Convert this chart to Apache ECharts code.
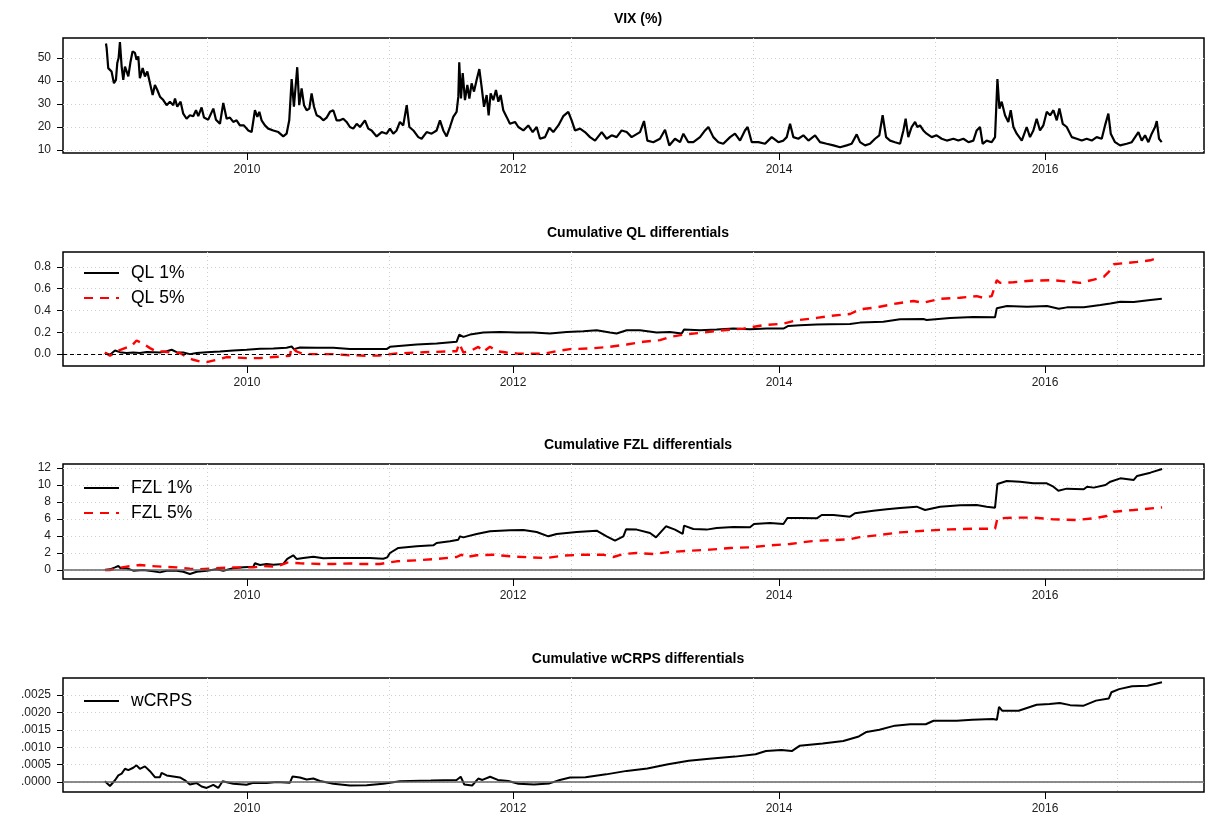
<!DOCTYPE html>
<html>
<head>
<meta charset="utf-8">
<script src="https://cdn.jsdelivr.net/npm/echarts@6/dist/echarts.min.js"></script>
<style>
  html, body { margin: 0; padding: 0; background: #fff; }
  #main { width: 1208px; height: 822px; }
</style>
</head>
<body>
<div id="main"></div>
<script>
// x values are decimal years
var vixYear = [2008.940,2008.945,2008.957,2008.982,2009.000,2009.015,2009.025,2009.035,2009.045,2009.058,2009.070,2009.083,2009.108,2009.125,2009.140,2009.158,2009.170,2009.183,2009.195,2009.216,2009.233,2009.251,2009.271,2009.291,2009.308,2009.326,2009.346,2009.371,2009.396,2009.421,2009.446,2009.459,2009.476,2009.501,2009.521,2009.546,2009.571,2009.596,2009.617,2009.634,2009.659,2009.677,2009.709,2009.747,2009.767,2009.797,2009.822,2009.847,2009.872,2009.897,2009.922,2009.947,2009.977,2010.010,2010.035,2010.060,2010.078,2010.093,2010.110,2010.135,2010.160,2010.198,2010.236,2010.273,2010.298,2010.318,2010.336,2010.353,2010.378,2010.393,2010.411,2010.429,2010.449,2010.469,2010.486,2010.504,2010.524,2010.549,2010.574,2010.599,2010.624,2010.649,2010.674,2010.699,2010.724,2010.749,2010.774,2010.799,2010.825,2010.850,2010.887,2010.912,2010.937,2010.975,2011.013,2011.050,2011.075,2011.100,2011.125,2011.150,2011.175,2011.201,2011.221,2011.251,2011.288,2011.313,2011.351,2011.388,2011.426,2011.451,2011.476,2011.501,2011.526,2011.551,2011.576,2011.589,2011.596,2011.609,2011.622,2011.639,2011.657,2011.672,2011.689,2011.707,2011.727,2011.747,2011.764,2011.782,2011.802,2011.817,2011.832,2011.852,2011.872,2011.890,2011.907,2011.927,2011.952,2011.977,2012.015,2012.040,2012.078,2012.115,2012.148,2012.178,2012.203,2012.241,2012.273,2012.303,2012.341,2012.378,2012.416,2012.441,2012.466,2012.504,2012.541,2012.579,2012.617,2012.667,2012.704,2012.742,2012.779,2012.817,2012.855,2012.892,2012.955,2012.985,2013.010,2013.055,2013.105,2013.143,2013.175,2013.218,2013.256,2013.281,2013.318,2013.356,2013.406,2013.444,2013.469,2013.506,2013.544,2013.581,2013.632,2013.669,2013.707,2013.744,2013.764,2013.795,2013.845,2013.895,2013.945,2013.995,2014.033,2014.058,2014.083,2014.108,2014.145,2014.183,2014.221,2014.271,2014.308,2014.358,2014.409,2014.459,2014.509,2014.546,2014.584,2014.609,2014.647,2014.684,2014.722,2014.754,2014.779,2014.805,2014.835,2014.872,2014.910,2014.935,2014.952,2014.972,2014.997,2015.023,2015.040,2015.060,2015.085,2015.110,2015.148,2015.185,2015.223,2015.261,2015.311,2015.348,2015.386,2015.424,2015.461,2015.486,2015.511,2015.531,2015.561,2015.599,2015.624,2015.642,2015.657,2015.674,2015.699,2015.724,2015.742,2015.762,2015.787,2015.825,2015.862,2015.887,2015.912,2015.937,2015.962,2015.987,2016.013,2016.038,2016.063,2016.088,2016.108,2016.133,2016.163,2016.201,2016.238,2016.276,2016.313,2016.351,2016.388,2016.426,2016.451,2016.476,2016.494,2016.526,2016.564,2016.614,2016.652,2016.677,2016.702,2016.727,2016.752,2016.777,2016.802,2016.827,2016.840,2016.857,2016.877];
var vixVal = [56.3,54.4,45.6,44.1,39.0,40.5,47.8,50.0,56.9,46.3,40.5,46.3,42.0,48.5,52.9,52.2,49.3,50.7,41.2,45.6,42.0,44.1,39.0,33.9,38.3,36.1,33.2,31.7,29.5,31.0,29.5,32.4,28.8,31.0,25.8,23.6,25.1,24.7,27.3,24.7,28.5,24.1,23.2,28.0,23.2,21.4,30.5,23.6,24.1,22.2,22.9,20.7,20.7,18.5,17.8,27.3,24.4,26.6,22.9,20.7,19.3,18.5,17.8,15.9,17.1,22.9,40.8,28.8,46.0,29.5,36.8,29.5,27.3,28.0,34.6,28.8,25.1,24.4,22.9,24.1,26.6,27.3,22.9,22.9,23.6,22.2,20.0,19.3,21.4,20.0,22.9,19.3,18.5,15.9,17.8,17.1,19.3,17.1,18.5,22.2,20.7,29.5,20.0,18.5,15.6,14.9,17.8,17.1,18.5,22.9,18.5,15.9,20.0,24.4,26.6,33.2,48.1,32.4,43.4,31.7,38.3,32.4,39.0,35.4,40.5,45.2,37.6,28.8,33.9,25.1,34.6,31.7,36.1,31.0,33.9,27.3,24.4,21.4,22.2,20.0,18.5,20.7,17.8,20.0,14.9,15.6,19.7,17.8,20.7,24.7,26.6,22.9,18.5,19.3,17.8,15.6,14.1,17.8,14.9,16.4,15.6,18.5,17.8,15.6,17.8,22.6,14.1,13.4,14.9,18.8,12.0,14.9,13.4,17.1,13.4,13.4,15.6,18.5,20.0,15.6,13.4,12.7,15.6,17.1,14.1,18.5,20.0,13.4,13.4,12.7,15.6,13.4,14.1,15.6,21.4,15.6,14.9,16.4,14.1,16.4,13.4,12.7,12.0,11.2,12.0,12.7,16.8,13.4,12.0,12.7,14.9,16.4,25.1,15.6,14.1,13.4,12.7,18.5,23.6,15.6,20.0,22.2,20.0,20.7,18.5,17.1,15.6,16.4,14.9,14.1,14.9,14.1,14.9,13.4,14.1,18.5,20.0,12.7,14.1,13.4,15.6,40.8,28.0,31.0,25.1,22.2,27.3,20.0,17.1,14.1,20.0,15.6,18.5,23.6,18.5,20.7,26.6,25.1,27.3,22.9,28.0,21.4,20.0,15.6,14.9,14.1,14.9,14.1,15.6,14.9,20.7,25.8,17.1,13.4,12.0,12.7,13.4,15.6,17.8,14.1,16.4,13.4,17.1,20.0,22.6,14.9,13.4];

var ql1Year = [2008.932,2008.970,2009.008,2009.045,2009.095,2009.145,2009.195,2009.246,2009.296,2009.346,2009.396,2009.434,2009.471,2009.521,2009.571,2009.622,2009.697,2009.797,2009.897,2009.997,2010.098,2010.198,2010.298,2010.336,2010.353,2010.398,2010.524,2010.649,2010.774,2010.925,2011.050,2011.075,2011.276,2011.426,2011.576,2011.596,2011.627,2011.677,2011.777,2011.902,2012.028,2012.153,2012.278,2012.404,2012.529,2012.629,2012.729,2012.779,2012.855,2012.955,2013.080,2013.180,2013.268,2013.286,2013.406,2013.531,2013.657,2013.782,2013.907,2014.033,2014.070,2014.158,2014.283,2014.383,2014.534,2014.609,2014.784,2014.910,2015.085,2015.110,2015.286,2015.461,2015.624,2015.637,2015.714,2015.865,2016.015,2016.103,2016.165,2016.291,2016.416,2016.491,2016.566,2016.667,2016.792,2016.878];
var ql1Val = [0.010,-0.005,0.033,0.018,0.010,0.015,0.010,0.020,0.018,0.015,0.027,0.040,0.018,0.015,0.000,0.010,0.018,0.024,0.033,0.040,0.049,0.052,0.058,0.070,0.046,0.061,0.058,0.058,0.046,0.046,0.046,0.067,0.088,0.097,0.113,0.179,0.158,0.179,0.198,0.204,0.198,0.198,0.189,0.204,0.210,0.219,0.198,0.189,0.219,0.219,0.198,0.204,0.189,0.225,0.219,0.225,0.234,0.228,0.234,0.234,0.259,0.265,0.271,0.274,0.277,0.289,0.298,0.319,0.322,0.313,0.332,0.341,0.338,0.420,0.441,0.435,0.441,0.417,0.429,0.429,0.450,0.465,0.481,0.478,0.496,0.508];

var ql5Year = [2008.932,2008.970,2009.020,2009.083,2009.133,2009.170,2009.221,2009.271,2009.321,2009.371,2009.446,2009.496,2009.546,2009.597,2009.647,2009.697,2009.772,2009.847,2009.897,2009.997,2010.098,2010.198,2010.273,2010.323,2010.336,2010.373,2010.424,2010.524,2010.649,2010.774,2010.900,2011.000,2011.125,2011.276,2011.426,2011.576,2011.596,2011.627,2011.677,2011.739,2011.777,2011.827,2011.877,2011.952,2012.028,2012.153,2012.228,2012.328,2012.429,2012.579,2012.729,2012.855,2012.980,2013.105,2013.180,2013.281,2013.431,2013.581,2013.732,2013.882,2014.033,2014.133,2014.283,2014.383,2014.534,2014.609,2014.734,2014.885,2015.010,2015.085,2015.211,2015.361,2015.486,2015.536,2015.599,2015.637,2015.662,2015.762,2015.912,2016.063,2016.165,2016.266,2016.366,2016.441,2016.479,2016.516,2016.617,2016.692,2016.792,2016.855];
var ql5Val = [0.015,-0.015,0.024,0.055,0.076,0.125,0.094,0.055,0.024,0.024,0.010,0.010,-0.027,-0.052,-0.067,-0.073,-0.052,-0.027,-0.030,-0.037,-0.037,-0.027,-0.021,-0.015,0.064,0.024,0.000,0.000,0.000,-0.010,-0.015,-0.012,0.006,0.015,0.021,0.027,0.097,0.015,0.027,0.067,0.021,0.067,0.027,0.015,0.006,0.003,0.003,0.027,0.046,0.052,0.067,0.088,0.113,0.128,0.158,0.179,0.198,0.219,0.234,0.265,0.280,0.310,0.332,0.350,0.368,0.411,0.429,0.465,0.487,0.471,0.508,0.517,0.532,0.517,0.532,0.678,0.654,0.660,0.675,0.678,0.666,0.654,0.684,0.709,0.754,0.824,0.837,0.846,0.861,0.885];

var fzl1Year = [2008.932,2008.970,2009.008,2009.033,2009.050,2009.095,2009.145,2009.221,2009.296,2009.346,2009.396,2009.471,2009.521,2009.571,2009.622,2009.697,2009.772,2009.822,2009.897,2009.972,2010.048,2010.060,2010.098,2010.148,2010.198,2010.273,2010.303,2010.348,2010.373,2010.424,2010.499,2010.574,2010.649,2010.774,2010.925,2011.025,2011.055,2011.075,2011.138,2011.276,2011.401,2011.426,2011.526,2011.589,2011.602,2011.627,2011.727,2011.827,2011.977,2012.078,2012.178,2012.266,2012.328,2012.479,2012.629,2012.704,2012.767,2012.830,2012.850,2012.930,2013.030,2013.075,2013.150,2013.218,2013.276,2013.286,2013.356,2013.456,2013.531,2013.657,2013.782,2013.812,2013.932,2014.033,2014.063,2014.158,2014.284,2014.321,2014.409,2014.534,2014.571,2014.709,2014.810,2014.910,2015.035,2015.098,2015.211,2015.361,2015.486,2015.561,2015.624,2015.642,2015.712,2015.812,2015.912,2016.013,2016.063,2016.100,2016.163,2016.291,2016.316,2016.366,2016.454,2016.491,2016.566,2016.667,2016.692,2016.792,2016.880];
var fzl1Val = [0.00,0.08,0.31,0.47,0.20,0.20,-0.08,0.00,-0.16,-0.28,-0.08,-0.08,-0.20,-0.47,-0.20,-0.08,0.08,-0.08,0.20,0.31,0.39,0.79,0.59,0.71,0.63,0.71,1.30,1.73,1.30,1.42,1.57,1.38,1.42,1.41,1.41,1.33,1.49,2.00,2.59,2.78,2.90,3.18,3.37,3.57,3.96,3.84,4.24,4.55,4.67,4.71,4.47,3.96,4.24,4.47,4.63,3.96,3.45,3.96,4.78,4.75,4.35,3.84,5.14,4.75,4.24,5.22,4.82,4.75,4.94,5.06,5.02,5.41,5.53,5.41,6.12,6.12,6.08,6.47,6.47,6.27,6.67,6.98,7.14,7.29,7.45,7.06,7.45,7.61,7.65,7.45,7.33,10.12,10.47,10.39,10.20,10.20,9.80,9.33,9.57,9.49,9.80,9.69,10.00,10.39,10.78,10.59,11.06,11.45,11.88];

var fzl5Year = [2008.932,2008.970,2009.020,2009.095,2009.195,2009.271,2009.371,2009.471,2009.571,2009.647,2009.747,2009.847,2009.947,2010.048,2010.123,2010.223,2010.303,2010.398,2010.549,2010.649,2010.774,2010.850,2011.000,2011.125,2011.276,2011.426,2011.576,2011.614,2011.639,2011.727,2011.852,2011.977,2012.128,2012.253,2012.378,2012.529,2012.679,2012.754,2012.830,2012.930,2013.055,2013.180,2013.331,2013.481,2013.632,2013.782,2013.932,2014.083,2014.233,2014.308,2014.534,2014.596,2014.734,2014.910,2015.110,2015.286,2015.461,2015.624,2015.642,2015.762,2015.912,2016.063,2016.238,2016.366,2016.464,2016.516,2016.667,2016.880];
var fzl5Val = [0.00,0.00,0.20,0.39,0.59,0.47,0.39,0.31,0.16,0.08,0.20,0.28,0.31,0.31,0.47,0.39,0.87,0.79,0.71,0.71,0.78,0.71,0.71,1.02,1.14,1.29,1.53,1.80,1.49,1.73,1.80,1.61,1.49,1.41,1.69,1.80,1.80,1.53,1.88,2.00,1.88,2.12,2.27,2.39,2.59,2.67,2.90,3.06,3.37,3.45,3.61,3.84,4.08,4.43,4.63,4.78,4.86,4.86,6.08,6.16,6.16,5.96,5.88,6.08,6.35,6.86,7.06,7.37];

var wcrpsYear = [2008.932,2008.970,2009.008,2009.033,2009.058,2009.083,2009.108,2009.145,2009.170,2009.195,2009.233,2009.271,2009.308,2009.346,2009.358,2009.396,2009.446,2009.496,2009.534,2009.571,2009.622,2009.659,2009.697,2009.747,2009.784,2009.817,2009.897,2009.997,2010.048,2010.148,2010.223,2010.323,2010.343,2010.398,2010.449,2010.499,2010.549,2010.649,2010.774,2010.900,2011.025,2011.150,2011.383,2011.576,2011.607,2011.634,2011.693,2011.739,2011.770,2011.828,2011.886,2011.964,2012.041,2012.158,2012.274,2012.352,2012.429,2012.545,2012.700,2012.855,2013.010,2013.166,2013.321,2013.476,2013.669,2013.824,2013.902,2014.018,2014.096,2014.154,2014.328,2014.483,2014.600,2014.658,2014.755,2014.871,2014.987,2015.103,2015.162,2015.336,2015.452,2015.607,2015.638,2015.654,2015.677,2015.801,2015.937,2016.034,2016.111,2016.189,2016.286,2016.383,2016.479,2016.499,2016.557,2016.654,2016.770,2016.879];
var wcrpsVal = [0.00002,-0.000115,0.00005,0.00019,0.00024,0.00038,0.00034,0.00041,0.00048,0.00038,0.00045,0.00031,0.00014,0.00014,0.00026,0.00019,0.00016,0.00013,0.00005,-0.00007,-0.00003,-0.00013,-0.00017,-0.00008,-0.00017,0.00002,-0.00005,-0.00008,-0.00002,-0.00003,0.00000,-0.00002,0.00016,0.00013,0.00007,0.00010,0.00003,-0.00005,-0.00010,-0.00009,-0.00005,0.00002,0.00004,0.00006,0.00015,-0.00007,-0.00010,0.00010,0.00006,0.00015,0.00006,0.00003,-0.00005,-0.00007,-0.00004,0.00006,0.00013,0.00014,0.00022,0.00032,0.00039,0.00051,0.00061,0.00067,0.00073,0.00080,0.00089,0.00092,0.00089,0.00104,0.00111,0.00118,0.00131,0.00144,0.00150,0.00162,0.00166,0.00166,0.00176,0.00176,0.00179,0.00181,0.00179,0.00216,0.00205,0.00205,0.00222,0.00224,0.00227,0.00221,0.00219,0.00234,0.00240,0.00258,0.00267,0.00275,0.00277,0.00287];

var yearTicks = [2010, 2012, 2014, 2016];
var gridDays = [14500, 15000, 15500, 16000, 16500, 17000]; // days since 1970-01-01
var panelTitles = ['VIX (%)', 'Cumulative QL differentials', 'Cumulative FZL differentials', 'Cumulative wCRPS differentials'];
var vixTicks = [10, 20, 30, 40, 50];
var qlTicks = [0, 0.2, 0.4, 0.6, 0.8];
var fzlTicks = [0, 2, 4, 6, 8, 10, 12];
var wcrpsTicks = [0, 0.0005, 0.001, 0.0015, 0.002, 0.0025];

function dayToYear(d) {
    var ms = d * 86400000;
    var y = new Date(ms).getUTCFullYear();
    var a = Date.UTC(y, 0, 1), b = Date.UTC(y + 1, 0, 1);
    return y + (ms - a) / (b - a);
}
function zip(xs, ys) {
    return xs.map(function (x, i) { return [x, ys[i]]; });
}

var gridYears = gridDays.map(dayToYear);
var X_MIN = 2008.617, X_MAX = 2017.195;
var FONT = '"Liberation Sans", Arial, sans-serif';

var panels = [
    { top: 38, height: 115, min: 8.7, max: 58.7, ticks: vixTicks, fmt: function (v) { return String(Math.round(v)); } },
    { top: 252, height: 114, min: -0.109, max: 0.937, ticks: qlTicks, fmt: function (v) { return v.toFixed(1); } },
    { top: 464, height: 115, min: -1.06, max: 12.47, ticks: fzlTicks, fmt: function (v) { return String(Math.round(v)); } },
    { top: 678, height: 114, min: -0.000287, max: 0.00299, ticks: wcrpsTicks, fmt: function (v) { return v.toFixed(4).replace(/^0/, ''); } }
];

var grids = [], xAxes = [], yAxes = [], titles = [];
panels.forEach(function (p, i) {
    grids.push({ left: 63, right: 4, top: p.top, height: p.height, show: true, borderColor: '#000', borderWidth: 1.5, backgroundColor: 'transparent' });
    // year ticks and labels
    xAxes.push({
        gridIndex: i, type: 'value', position: 'bottom', min: X_MIN, max: X_MAX,
        axisLine: { show: false, onZero: false },
        axisTick: { show: true, inside: false, length: 7, customValues: yearTicks, lineStyle: { color: '#000', width: 1 } },
        axisLabel: { show: true, customValues: yearTicks, margin: 11, color: '#222', fontSize: 12, fontFamily: FONT, formatter: function (v) { return String(Math.round(v)); } },
        splitLine: { show: false }
    });
    // dotted vertical grid (every 500 days)
    xAxes.push({
        gridIndex: i, type: 'value', position: 'top', min: X_MIN, max: X_MAX,
        axisLine: { show: false, onZero: false },
        axisTick: { show: false, customValues: gridYears },
        axisLabel: { show: false },
        splitLine: { show: true, lineStyle: { color: '#cfcfcf', type: [1, 3], width: 1 } }
    });
    yAxes.push({
        gridIndex: i, type: 'value', min: p.min, max: p.max,
        axisLine: { show: false, onZero: false },
        axisTick: { show: true, length: 6, customValues: p.ticks, lineStyle: { color: '#000', width: 1 } },
        axisLabel: { customValues: p.ticks, margin: 12, color: '#222', fontSize: 12, fontFamily: FONT, formatter: p.fmt },
        splitLine: { show: true, lineStyle: { color: '#cfcfcf', type: [1, 3], width: 1 } }
    });
    titles.push({
        text: panelTitles[i], left: 633, top: p.top - 31, textAlign: 'center',
        textStyle: { fontSize: 14, fontWeight: 'bold', color: '#000', fontFamily: FONT }
    });
});

function lineSeries(name, idx, data, color, dash) {
    return {
        name: name, type: 'line', xAxisIndex: idx * 2, yAxisIndex: idx, data: data,
        showSymbol: false, symbol: 'none', animation: false,
        lineStyle: { color: color, width: dash ? 2.4 : 2, type: dash ? [9, 7] : 'solid' },
        itemStyle: { color: color }
    };
}
function zeroLine(color, width, type) {
    return {
        silent: true, symbol: 'none', label: { show: false },
        lineStyle: { color: color, width: width, type: type },
        data: [{ yAxis: 0 }]
    };
}

var sVix = lineSeries('VIX', 0, zip(vixYear, vixVal), '#000', false);
sVix.lineStyle.width = 2.2;
var sQl1 = lineSeries('QL 1%', 1, zip(ql1Year, ql1Val), '#000', false);
var sQl5 = lineSeries('QL 5%', 1, zip(ql5Year, ql5Val), '#ff0000', true);
var sFzl1 = lineSeries('FZL 1%', 2, zip(fzl1Year, fzl1Val), '#000', false);
var sFzl5 = lineSeries('FZL 5%', 2, zip(fzl5Year, fzl5Val), '#ff0000', true);
var sW = lineSeries('wCRPS', 3, zip(wcrpsYear, wcrpsVal), '#000', false);
sQl1.markLine = zeroLine('#000', 1, [4, 3]);
sFzl1.markLine = zeroLine('#666', 1.5, 'solid');
sW.markLine = zeroLine('#666', 1.5, 'solid');

function legendAt(top, names) {
    return {
        data: names, orient: 'vertical', left: 78, top: top,
        itemWidth: 35, itemHeight: 17, itemGap: 7,
        itemStyle: { opacity: 0 },
        textStyle: { fontSize: 17.5, color: '#000', fontFamily: FONT, padding: [0, 0, 0, 7] },
        selectedMode: false
    };
}

var chart = echarts.init(document.getElementById('main'), null, { renderer: 'canvas' });
chart.setOption({
    backgroundColor: '#fff',
    animation: false,
    title: titles,
    grid: grids,
    xAxis: xAxes,
    yAxis: yAxes,
    legend: [
        legendAt(259, ['QL 1%', 'QL 5%']),
        legendAt(474, ['FZL 1%', 'FZL 5%']),
        legendAt(687, ['wCRPS'])
    ],
    series: [sVix, sQl1, sQl5, sFzl1, sFzl5, sW]
});
</script>
</body>
</html>
